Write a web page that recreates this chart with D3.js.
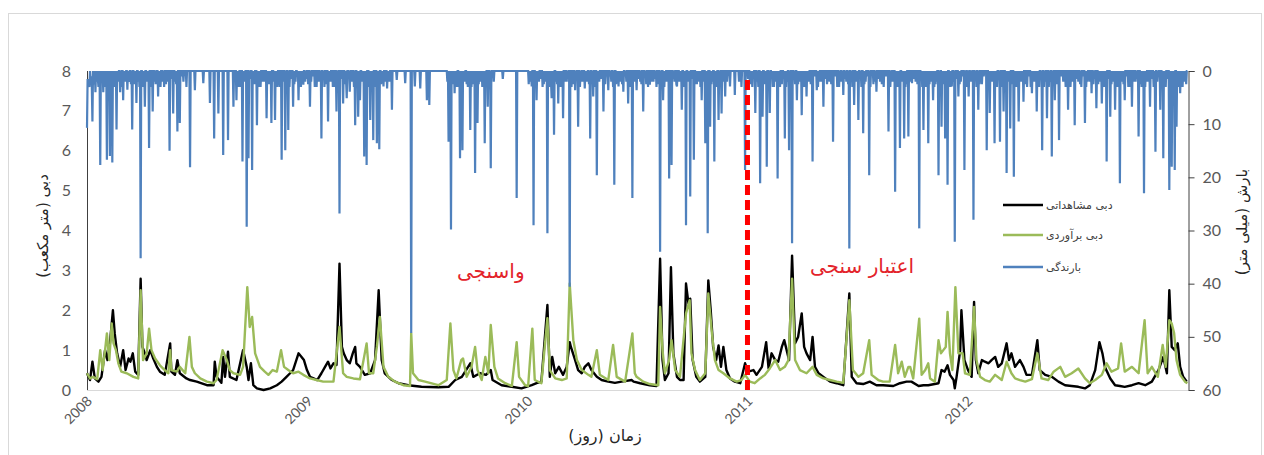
<!DOCTYPE html>
<html>
<head>
<meta charset="utf-8">
<style>
body { margin: 0; background: #fff; }
.tick-label { font-family: Lato, "Open Sans", sans-serif; fill: #595959; }
.fa { font-family: "DejaVu Sans", sans-serif; direction: rtl; }
</style>
</head>
<body>

<div id="diagram"></div>

<script src="https://cdn.jsdelivr.net/npm/d3@7/dist/d3.min.js"></script>
<script>

// days counted from 2008-01-01
var start_date = new Date( 2008, 0, 1 );
var end_date = new Date( 2013, 0, 1 );
var split_day = 1096;	// start of validation period (2011-01-01)

var year_labels = [ '2008', '2009', '2010', '2011', '2012' ];
var flow_ticks = [ 0, 1, 2, 3, 4, 5, 6, 7, 8 ];
var rain_ticks = [ 0, 10, 20, 30, 40, 50, 60 ];

var legend_names = [ 'دبی مشاهداتی', 'دبی برآوردی', 'بارندگی' ];

// observed discharge [day, m3/s]
var observed = [
	[0,0.42],[5,0.25],[9,0.71],[13,0.29],[19,0.21],[24,0.33],[30,1.0],[34,0.75],[38,1.17],[43,2.0],[46,1.42],[50,0.92],
	[55,0.58],[60,1.0],[64,0.5],[69,0.79],[72,0.71],[76,0.92],[80,0.46],[85,0.38],[89,2.79],[92,1.08],[96,0.92],[99,0.75],
	[105,1.0],[110,0.79],[116,0.58],[121,0.46],[129,0.38],[138,1.17],[140,0.46],[146,0.38],[150,0.75],[154,0.42],[165,0.29],
	[171,0.25],[182,0.21],[199,0.12],[210,0.12],[212,0.71],[215,0.33],[223,0.18],[226,0.83],[229,0.33],[234,0.96],[237,0.33],
	[248,0.25],[259,1.0],[265,0.58],[268,0.25],[272,0.67],[276,0.12],[282,0.04],[293,0.0],[304,0.04],[315,0.12],[323,0.21],
	[331,0.33],[337,0.42],[342,0.5],[351,0.92],[356,0.83],[360,0.75],[365,0.5],[370,0.33],[376,0.29],[382,0.25],[389,0.42],
	[395,0.58],[400,0.71],[404,0.54],[409,0.67],[414,0.63],[419,3.17],[423,1.08],[426,0.92],[431,0.75],[436,0.67],[441,0.92],
	[445,1.08],[447,0.67],[453,0.58],[461,0.38],[470,0.42],[478,0.75],[484,2.5],[489,0.75],[494,0.42],[506,0.25],[517,0.17],
	[533,0.12],[555,0.08],[583,0.07],[600,0.08],[611,0.25],[622,0.33],[636,0.67],[641,0.33],[652,0.42],[662,0.38],[670,0.5],
	[673,0.25],[688,0.12],[705,0.08],[721,0.04],[738,0.12],[746,0.17],[754,0.21],[764,2.13],[768,0.33],[772,0.83],[777,0.42],
	[783,0.58],[790,0.38],[796,0.58],[801,1.2],[803,1.08],[810,0.75],[815,0.5],[821,0.42],[826,0.58],[832,0.67],[837,0.5],
	[846,0.33],[854,0.25],[865,0.21],[876,0.18],[887,0.21],[904,0.25],[907,0.21],[918,0.17],[934,0.12],[945,0.1],[951,3.29],
	[955,0.75],[959,0.25],[965,0.42],[969,3.08],[973,0.92],[979,0.33],[984,0.25],[990,0.25],[994,2.67],[998,2.17],[1001,2.29],
	[1005,0.75],[1011,0.33],[1017,0.21],[1026,0.33],[1031,2.75],[1035,2.0],[1039,1.08],[1044,0.75],[1048,1.12],[1052,0.58],
	[1056,1.08],[1061,0.5],[1067,0.29],[1075,0.21],[1084,0.17],[1092,0.67],[1097,0.46],[1106,0.5],[1111,0.38],[1120,0.58],
	[1127,1.2],[1131,0.54],[1136,0.92],[1142,0.75],[1147,0.71],[1153,1.08],[1157,1.25],[1161,1.0],[1165,0.75],[1170,3.37],
	[1175,1.17],[1180,1.33],[1186,1.92],[1190,1.08],[1194,0.92],[1200,0.75],[1204,1.33],[1208,0.58],[1214,0.42],[1222,0.33],
	[1233,0.21],[1244,0.17],[1255,0.12],[1265,2.42],[1269,0.33],[1277,0.17],[1288,0.15],[1299,0.21],[1310,0.12],[1321,0.12],
	[1338,0.1],[1349,0.17],[1360,0.21],[1368,0.21],[1380,0.1],[1388,0.12],[1396,0.12],[1413,0.17],[1418,0.5],[1423,0.46],
	[1428,0.62],[1432,0.38],[1438,0.25],[1440,0.04],[1443,0.33],[1449,1.0],[1451,2.0],[1456,0.75],[1462,0.5],[1468,0.33],
	[1472,2.21],[1475,0.75],[1479,0.42],[1485,0.75],[1490,0.71],[1496,0.67],[1501,0.75],[1507,0.83],[1512,0.58],[1518,0.67],
	[1526,1.17],[1530,0.75],[1534,0.92],[1540,0.58],[1548,0.75],[1554,0.58],[1559,0.38],[1568,0.38],[1577,1.25],[1581,0.5],
	[1590,0.38],[1601,0.33],[1612,0.21],[1623,0.12],[1634,0.1],[1645,0.08],[1656,0.04],[1664,0.12],[1673,0.5],[1680,1.2],
	[1685,0.92],[1689,0.58],[1698,0.29],[1706,0.12],[1714,0.1],[1722,0.08],[1734,0.12],[1745,0.17],[1756,0.12],[1767,0.21],
	[1778,0.5],[1786,0.83],[1792,0.42],[1796,2.5],[1800,1.08],[1805,1.0],[1810,1.17],[1814,0.58],[1819,0.33],[1825,0.21]
];

// simulated discharge [day, m3/s]
var simulated = [
	[0,0.42],[5,0.29],[10,0.33],[17,0.27],[22,1.0],[26,0.5],[30,1.0],[33,1.42],[37,0.75],[41,1.67],[44,1.17],[48,1.0],
	[52,0.67],[57,0.46],[66,0.42],[77,0.33],[85,0.29],[89,2.5],[93,0.75],[99,0.92],[103,1.54],[107,1.0],[113,0.79],[121,0.62],
	[129,0.5],[135,0.42],[138,1.0],[140,0.5],[149,0.46],[154,0.58],[163,0.42],[170,1.33],[174,0.58],[179,0.42],[188,0.29],
	[199,0.21],[210,0.17],[215,0.25],[225,1.0],[232,0.75],[237,0.5],[243,0.42],[254,0.38],[259,0.58],[266,2.58],[270,1.58],
	[274,1.83],[279,0.92],[287,0.58],[295,0.46],[301,0.38],[308,0.5],[315,0.46],[322,1.0],[327,0.58],[334,0.5],[342,0.42],
	[351,0.46],[359,0.38],[370,0.29],[381,0.25],[392,0.21],[409,0.21],[419,1.58],[425,0.42],[431,0.33],[442,0.29],[453,0.27],
	[464,1.17],[468,0.42],[475,0.42],[481,1.08],[486,1.83],[492,0.58],[500,0.33],[511,0.21],[525,0.12],[536,0.1],[538,1.42],
	[541,0.42],[550,0.25],[561,0.21],[583,0.12],[597,0.25],[603,1.67],[608,0.5],[613,0.29],[621,0.75],[624,0.79],[630,0.33],
	[638,0.58],[644,1.08],[648,0.5],[655,0.25],[661,0.83],[666,0.42],[670,1.63],[676,0.58],[682,0.29],[694,0.17],[705,0.1],
	[713,1.2],[717,0.33],[727,0.12],[732,0.1],[739,1.54],[743,0.25],[754,0.17],[764,1.8],[768,0.5],[777,0.29],[788,0.25],
	[796,0.29],[801,2.67],[807,1.25],[813,0.75],[821,0.5],[832,0.38],[837,0.33],[846,1.0],[851,0.38],[865,0.25],[873,1.13],
	[879,0.33],[893,0.21],[905,1.42],[909,0.42],[912,0.33],[923,0.21],[934,0.15],[948,0.12],[951,2.08],[955,1.0],[959,0.42],
	[966,0.75],[970,1.25],[976,0.5],[984,0.33],[994,1.92],[1000,2.25],[1003,0.92],[1009,0.5],[1017,0.25],[1026,0.42],
	[1031,2.42],[1037,1.42],[1042,0.75],[1048,0.5],[1056,0.42],[1067,0.29],[1078,0.21],[1086,0.25],[1092,0.38],[1100,0.21],
	[1108,0.17],[1117,0.29],[1125,0.38],[1133,0.54],[1142,0.75],[1150,0.5],[1158,0.58],[1164,0.75],[1170,2.79],[1175,0.75],
	[1183,0.5],[1194,0.42],[1204,0.58],[1211,0.38],[1222,0.29],[1233,0.25],[1244,0.21],[1255,0.18],[1265,2.25],[1271,0.5],
	[1280,0.33],[1288,0.42],[1298,1.25],[1302,0.38],[1313,0.25],[1321,0.21],[1332,0.21],[1341,1.13],[1346,0.42],[1352,0.71],
	[1357,0.33],[1363,0.58],[1366,0.58],[1371,0.29],[1381,1.79],[1385,0.38],[1391,0.5],[1396,0.67],[1399,0.29],[1407,0.21],
	[1413,1.25],[1417,0.92],[1421,1.0],[1425,1.08],[1428,1.96],[1432,0.92],[1436,0.5],[1441,2.58],[1446,0.92],[1453,0.92],
	[1457,0.42],[1465,0.38],[1472,2.08],[1476,0.75],[1482,0.33],[1490,0.25],[1498,0.21],[1507,0.38],[1518,0.25],[1526,0.71],
	[1534,0.42],[1540,0.29],[1548,0.25],[1557,0.21],[1568,0.27],[1577,0.92],[1584,0.29],[1595,0.25],[1604,0.46],[1615,0.58],
	[1623,0.33],[1634,0.42],[1645,0.54],[1656,0.29],[1664,0.17],[1673,0.25],[1684,0.38],[1692,0.67],[1700,0.46],[1711,0.54],
	[1716,1.17],[1722,0.46],[1734,0.58],[1745,0.42],[1755,1.75],[1760,0.42],[1767,0.58],[1777,0.33],[1785,1.13],[1790,0.58],
	[1796,1.75],[1800,1.67],[1804,1.42],[1808,0.75],[1814,0.38],[1822,0.21],[1826,0.17]
];

// daily rainfall on rainy days [day, mm]
var rainfall = [
	[0,10.7],[2,2],[4,3],[6,1.5],[9,9.5],[12,2.5],[14,4],[16,2],[19,3],[22,17.7],[25,2],[27,4],[29,2.5],[33,16.7],[36,3],
	[38,16],[40,2],[42,17.2],[45,3],[49,11],[52,2],[55,4],[60,5.5],[64,2],[67,3.5],[70,2],[75,11],[78,2.5],[82,6],[85,2],
	[89,35.2],[92,3],[96,6.7],[99,2],[103,14.5],[106,3],[109,7.6],[112,2],[118,4.8],[122,3],[126,2],[131,2.5],[137,15],
	[143,8],[146,2],[150,11.4],[154,9.8],[160,2],[165,3],[171,18.1],[179,3.6],[193,2.3],[204,6],[211,12.7],[218,8],[226,15.8],
	[234,13],[243,6.7],[248,5.5],[250,2],[255,3],[258,17],[262,2],[265,29.3],[268,16.4],[274,18.6],[278,2.5],[282,10.2],
	[286,3],[291,2],[298,8.9],[302,2.5],[306,9.8],[310,2],[312,9.2],[316,3],[323,16.7],[326,2],[329,14.9],[334,11.1],[336,3],
	[342,6.7],[346,2],[351,5.5],[355,3],[359,2.6],[362,2],[370,6.7],[372,2],[378,3],[384,2],[389,12.7],[394,3],[400,9.5],
	[404,2],[408,3],[414,7.6],[419,26.8],[425,6.1],[430,2],[431,5.1],[436,3.9],[440,2],[445,10.2],[448,3],[450,8.6],[453,5.5],
	[456,2],[460,16.1],[464,17.7],[468,3],[470,9.2],[472,2],[475,13],[478,3],[481,13.6],[485,14.7],[488,2.5],[492,2.9],
	[495,2],[498,3.3],[502,2],[506,7.3],[514,1.7],[528,2.3],[538,49.3],[544,2.9],[553,3.3],[564,5.5],[568,6.4],[600,13.3],
	[604,29.8],[606,2],[610,4.2],[614,3],[619,16.4],[623,14.9],[627,2],[632,3],[636,11.1],[640,2.5],[644,19.2],[648,9.8],
	[652,2],[656,3],[660,13.6],[665,6.7],[670,18.3],[675,2],[690,1.5],[713,23.9],[735,2],[738,2.9],[741,29],[746,5.5],
	[750,2],[756,3],[760,2],[764,30.5],[768,3],[771,5.1],[775,12],[778,2],[782,6.1],[786,3],[790,8.9],[796,2],[801,40.6],
	[804,3],[810,3.6],[815,10.5],[820,2],[826,3.3],[830,2],[835,12.7],[840,4.8],[846,19.6],[850,2],[857,7.6],[865,3.6],
	[870,2],[875,21.4],[878,2.5],[882,2.9],[886,2],[890,3.9],[895,2],[898,6.1],[905,23.9],[912,3.6],[918,2],[923,7.6],
	[928,2.5],[934,2.6],[940,2],[945,3],[951,34],[956,5.5],[960,2],[966,20.2],[970,17.7],[975,2],[979,2.9],[983,2],
	[987,7.3],[992,3],[994,29],[997,2],[1001,23.6],[1007,16.7],[1012,2.5],[1016,2],[1020,5.5],[1026,13.6],[1030,30.5],
	[1034,10.5],[1038,2],[1041,17],[1045,3],[1048,9.2],[1053,8],[1059,4.8],[1062,2],[1067,2.9],[1075,4.5],[1082,2],[1086,3],
	[1092,18.6],[1100,2],[1104,3],[1109,7.9],[1112,2],[1117,21.1],[1121,8.6],[1124,2.5],[1128,18],[1133,7.9],[1138,3],
	[1142,2],[1146,20.2],[1150,3],[1158,12.7],[1162,2],[1165,14.9],[1170,32.4],[1175,2.5],[1178,5.5],[1182,2],[1186,8.3],
	[1190,3],[1194,4.8],[1198,2],[1204,17],[1211,3.6],[1215,2],[1222,6.7],[1228,2.5],[1232,2],[1238,13.3],[1245,3],[1250,2],
	[1255,4.5],[1260,2],[1265,33.4],[1273,6.4],[1276,2],[1280,9.2],[1285,3],[1288,11.7],[1292,2],[1298,19.6],[1305,2.5],
	[1310,3.9],[1316,2],[1322,3],[1330,11.4],[1335,2],[1341,22.7],[1345,3],[1349,14.5],[1352,2],[1356,12.7],[1360,2.5],
	[1363,12.3],[1369,2.3],[1375,2],[1381,29.6],[1388,11.1],[1392,3],[1396,13.6],[1400,2],[1404,5.5],[1408,2.5],[1413,19.6],
	[1418,10.5],[1420,2],[1424,12.7],[1428,21.4],[1431,3],[1435,2.9],[1440,32.1],[1446,4.8],[1450,2],[1456,18.6],[1458,3],
	[1463,4.8],[1466,2],[1471,28],[1476,3],[1479,7.3],[1485,2.5],[1493,14.9],[1498,7.9],[1502,2],[1506,13.6],[1510,3],
	[1515,13.3],[1521,7.6],[1526,19.2],[1530,2],[1532,10.8],[1538,19.9],[1542,3],[1546,9.5],[1550,2],[1554,5.8],[1560,3],
	[1568,4.2],[1572,2],[1576,7.6],[1580,3],[1585,14.9],[1590,2],[1593,8.9],[1596,3],[1601,16.1],[1606,5.5],[1613,13],
	[1620,2],[1628,7.3],[1632,3],[1639,10.2],[1645,2],[1650,3],[1656,9.8],[1660,2],[1667,4.2],[1670,2.5],[1675,7],[1680,2],
	[1684,6.1],[1688,3],[1692,17],[1698,8.6],[1702,2],[1706,7.3],[1710,3],[1714,21.1],[1718,2],[1722,5.5],[1728,3],
	[1734,6.7],[1740,2],[1745,12.3],[1750,3],[1754,23],[1758,2],[1764,6.7],[1770,3],[1773,15.2],[1776,2],[1781,7.3],
	[1786,16.4],[1790,3],[1796,22.4],[1800,18],[1802,3],[1805,18.6],[1808,10.5],[1812,2],[1814,4.2],[1818,3],[1822,2]
];

// light rain days that make the solid band along the top [day, mm]
var rainfall_light = [
	[1,1.5],[3,2.5],[7,1],[8,3],[11,2],[18,1.5],[21,2.5],[24,1],[31,3],[35,2],[44,1.5],[47,2.5],[51,1],[57,3],[62,2],
	[69,1.5],[73,2.5],[80,1],[87,3],[94,2],[101,1.5],[114,2.5],[120,1],[128,3],[134,2],[140,1.5],[148,2.5],[157,1],
	[252,3],[260,2],[270,1.5],[276,2.5],[284,1],[288,3],[294,2],[300,1.5],[304,2.5],[314,1],[320,3],[331,2],[339,1.5],
	[344,2.5],[349,1],[353,3],[357,2],[364,1.5],[367,2.5],[375,1],[381,3],[387,2],[392,1.5],[397,2.5],[402,1],[411,3],
	[416,2],[422,1.5],[428,2.5],[434,1],[443,3],[451,2],[458,1.5],[462,2.5],[474,1],[483,3],[490,2],[500,1.5],
	[598,2],[602,1.5],[608,2.5],[612,1],[617,3],[621,2],[625,1.5],[630,2.5],[634,1],[638,3],[642,2],[646,1.5],[650,2.5],
	[654,1],[658,3],[662,2],[668,1.5],[733,2.5],[737,1],[744,3],[748,2],[753,1.5],[758,2.5],[762,1],[766,3],[770,2],
	[773,1.5],[780,2.5],[784,1],[788,3],[793,2],[798,1.5],[807,2.5],[812,1],[818,3],[823,2],[828,1.5],[833,2.5],[838,1],
	[843,3],[848,2],[853,1.5],[860,2.5],[868,1],[873,3],[880,2],[884,1.5],[888,2.5],[893,1],[902,3],[908,2],[915,1.5],
	[920,2.5],[926,1],[931,3],[937,2],[943,1.5],[948,2.5],[953,1],[958,3],[963,2],[973,1.5],[978,2.5],[985,1],[990,3],
	[999,2],[1004,1.5],[1010,2.5],[1014,1],[1018,3],[1023,2],[1028,1.5],[1036,2.5],[1043,1],[1050,3],[1056,2],
	[1097,1.5],[1102,2.5],[1106,1],[1114,3],[1119,2],[1126,1.5],[1131,2.5],[1136,1],[1140,3],[1144,2],[1148,1.5],
	[1153,2.5],[1156,1],[1160,3],[1167,2],[1173,1.5],[1180,2.5],[1184,1],[1188,3],[1192,2],[1196,1.5],[1201,2.5],
	[1207,1],[1213,3],[1218,2],[1225,1.5],[1235,2.5],[1242,1],[1248,3],[1253,2],[1258,1.5],[1263,2.5],[1268,1],
	[1270,3],[1278,2],[1283,1.5],[1290,2.5],[1295,1],[1300,3],[1308,2],[1313,1.5],[1319,2.5],[1326,1],[1333,3],
	[1338,2],[1343,1.5],[1347,2.5],[1354,1],[1358,3],[1366,2],[1372,1.5],[1378,2.5],[1384,1],[1386,3],[1390,2],
	[1394,1.5],[1398,2.5],[1402,1],[1406,3],[1410,2],[1415,1.5],[1422,2.5],[1426,1],[1433,3],[1438,2],[1443,1.5],
	[1448,2.5],[1453,1],[1461,3],[1468,2],[1474,1.5],[1481,2.5],[1488,1],[1496,3],[1500,2],[1504,1.5],[1508,2.5],
	[1513,1],[1518,3],[1524,2],[1528,1.5],[1535,2.5],[1540,1],[1544,3],[1548,2],[1552,1.5],[1557,2.5],[1563,1],
	[1566,3],[1570,2],[1574,1.5],[1578,2.5],[1583,1],[1588,3],[1598,2],[1603,1.5],[1610,2.5],[1616,1],[1624,3],
	[1636,2],[1642,1.5],[1648,2.5],[1653,1],[1658,3],[1664,2],[1672,1.5],[1678,2.5],[1682,1],[1686,3],[1690,2],
	[1695,1.5],[1700,2.5],[1704,1],[1708,3],[1712,2],[1716,1.5],[1720,2.5],[1725,1],[1731,3],[1737,2],[1742,1.5],
	[1748,2.5],[1752,1],[1756,3],[1761,2],[1767,1.5],[1772,2.5],[1778,1],[1784,3],[1788,2],[1793,1.5],[1798,2.5],
	[1804,1],[1810,3],[1816,2],[1820,1.5],[1824,2.5]
];

var canvas_size = { width: 1264, height: 455 };
var plot = { left: 87, right: 1188, top: 71, bottom: 390 };

var colors = { observed: '#000000', simulated: '#9bbb59', rain: '#4f81bd', split: '#ff0000', label: '#e3232b' };

var svg = null;
var x = null, y_flow = null, y_rain = null;


function day_to_date( d )
{
	return d3.timeDay.offset( start_date, d );
}


function rain_points()
{
	// line runs along zero between rainy days
	var sorted = rainfall.concat( rainfall_light ).sort( function(a, b) { return a[0] - b[0]; } );
	var pts = [];
	sorted.forEach( function( e, i )
	{
		var prev = i > 0 ? sorted[i-1][0] : -10;
		var next = i < sorted.length - 1 ? sorted[i+1][0] : 9999;
		if( e[0] - prev > 1 && e[0] > 0 ) pts.push( [e[0] - 1, 0] );
		pts.push( e );
		if( next - e[0] > 1 ) pts.push( [e[0] + 1, 0] );
	});
	pts.push( [1826, 0] );
	return pts;
}


function draw()
{
	svg = d3.select( '#diagram' )
		.append( 'svg' )
			.attr( 'width', canvas_size.width )
			.attr( 'height', canvas_size.height );

	svg.append( 'rect' )
		.attr( 'width', canvas_size.width )
		.attr( 'height', canvas_size.height )
		.attr( 'fill', '#fff' );

	// outer chart frame
	svg.append( 'rect' )
		.attr( 'x', 8.5 ).attr( 'y', 13.5 )
		.attr( 'width', 1253 ).attr( 'height', 460 )
		.attr( 'fill', 'none' )
		.attr( 'stroke', '#d9d9d9' );

	x = d3.scaleTime().domain( [start_date, end_date] ).range( [plot.left, plot.right] );
	y_flow = d3.scaleLinear().domain( [0, 8] ).range( [plot.bottom, plot.top] );
	y_rain = d3.scaleLinear().domain( [0, 60] ).range( [plot.top, plot.bottom] );

	// bottom axis line
	svg.append( 'line' )
		.attr( 'x1', plot.left ).attr( 'x2', plot.right )
		.attr( 'y1', plot.bottom + 0.5 ).attr( 'y2', plot.bottom + 0.5 )
		.attr( 'stroke', '#d9d9d9' );

	// left axis
	svg.append( 'line' )
		.attr( 'x1', plot.left + 0.5 ).attr( 'x2', plot.left + 0.5 )
		.attr( 'y1', plot.top ).attr( 'y2', plot.bottom )
		.attr( 'stroke', '#404040' );

	svg.selectAll( 'text.flow-tick' )
		.data( flow_ticks )
		.enter().append( 'text' )
			.attr( 'class', 'tick-label flow-tick' )
			.attr( 'x', 71 )
			.attr( 'y', function(d) { return y_flow( d ) + 5.5; } )
			.attr( 'text-anchor', 'end' )
			.attr( 'font-size', 16 )
			.text( function(d) { return d; } );

	// right axis
	var right_axis = svg.append( 'g' )
		.attr( 'transform', 'translate(' + (plot.right + 0.5) + ',0)' )
		.call( d3.axisRight( y_rain ).tickValues( rain_ticks ).tickSize( 6 ).tickPadding( 8 ) );
	right_axis.select( '.domain' ).attr( 'stroke', '#404040' );
	right_axis.selectAll( '.tick line' ).attr( 'stroke', '#404040' );
	right_axis.selectAll( '.tick text' )
		.attr( 'class', 'tick-label' )
		.attr( 'font-size', 16 )
		.attr( 'fill', '#595959' );

	// year ticks on x axis
	svg.selectAll( 'text.year' )
		.data( year_labels )
		.enter().append( 'text' )
			.attr( 'class', 'tick-label year' )
			.attr( 'font-size', 14 )
			.attr( 'fill', '#7f7f7f' )
			.attr( 'text-anchor', 'end' )
			.attr( 'transform', function(d)
			{
				return 'translate(' + ( x( new Date( +d, 0, 1 ) ) + 6 ) + ',' + 402 + ') rotate(-45)';
			})
			.text( function(d) { return d; } );

	// discharge lines
	var flow_line = d3.line()
		.x( function(d) { return x( day_to_date( d[0] ) ); } )
		.y( function(d) { return y_flow( d[1] ); } );

	svg.append( 'path' )
		.datum( observed )
		.attr( 'd', flow_line )
		.attr( 'fill', 'none' )
		.attr( 'stroke', colors.observed )
		.attr( 'stroke-width', 2.4 )
		.attr( 'stroke-linejoin', 'round' );

	svg.append( 'path' )
		.datum( simulated )
		.attr( 'd', flow_line )
		.attr( 'fill', 'none' )
		.attr( 'stroke', colors.simulated )
		.attr( 'stroke-width', 2.4 )
		.attr( 'stroke-linejoin', 'round' );

	// rainfall hanging from the top
	var rain_line = d3.line()
		.x( function(d) { return x( day_to_date( d[0] ) ); } )
		.y( function(d) { return y_rain( d[1] ); } );

	svg.append( 'path' )
		.datum( rain_points() )
		.attr( 'd', rain_line )
		.attr( 'fill', 'none' )
		.attr( 'stroke', colors.rain )
		.attr( 'stroke-width', 2.2 );

	// calibration / validation split
	var sx = x( day_to_date( split_day ) );
	svg.append( 'line' )
		.attr( 'x1', sx ).attr( 'x2', sx )
		.attr( 'y1', 80 ).attr( 'y2', plot.bottom + 2 )
		.attr( 'stroke', colors.split )
		.attr( 'stroke-width', 5 )
		.attr( 'stroke-dasharray', '10,5' );

	svg.append( 'text' )
		.attr( 'class', 'fa' )
		.attr( 'x', x( day_to_date( 670 ) ) ).attr( 'y', 278 )
		.attr( 'text-anchor', 'middle' )
		.attr( 'font-size', 20 )
		.attr( 'fill', colors.label )
		.text( 'واسنجی' );

	svg.append( 'text' )
		.attr( 'class', 'fa' )
		.attr( 'x', x( day_to_date( 1286 ) ) ).attr( 'y', 273 )
		.attr( 'text-anchor', 'middle' )
		.attr( 'font-size', 20 )
		.attr( 'fill', colors.label )
		.text( 'اعتبار سنجی' );

	// legend
	var legend_colors = [ colors.observed, colors.simulated, colors.rain ];
	var legend = svg.selectAll( 'g.legend' )
		.data( legend_names )
		.enter().append( 'g' )
			.attr( 'class', 'legend' )
			.attr( 'transform', function(d, i) { return 'translate(1003,' + [205, 235, 267][i] + ')'; } );
	legend.append( 'line' )
		.attr( 'x1', 0 ).attr( 'x2', 40 )
		.attr( 'stroke', function(d, i) { return legend_colors[i]; } )
		.attr( 'stroke-width', 2.5 );
	legend.append( 'text' )
		.attr( 'class', 'fa' )
		.attr( 'x', 43 ).attr( 'y', 4 )
		.attr( 'text-anchor', 'end' )
		.attr( 'font-size', 11 )
		.attr( 'fill', '#404040' )
		.text( function(d) { return d; } );

	// axis titles
	svg.append( 'text' )
		.attr( 'class', 'fa' )
		.attr( 'transform', 'translate(48,226) rotate(-90)' )
		.attr( 'text-anchor', 'middle' )
		.attr( 'font-size', 15 )
		.attr( 'fill', '#262626' )
		.text( 'دبی (متر مکعب)' );

	svg.append( 'text' )
		.attr( 'class', 'fa' )
		.attr( 'transform', 'translate(1247,222) rotate(-90)' )
		.attr( 'text-anchor', 'middle' )
		.attr( 'font-size', 15 )
		.attr( 'fill', '#262626' )
		.text( 'بارش (میلی متر)' );

	svg.append( 'text' )
		.attr( 'class', 'fa' )
		.attr( 'x', 605 ).attr( 'y', 441 )
		.attr( 'text-anchor', 'middle' )
		.attr( 'font-size', 16 )
		.attr( 'fill', '#262626' )
		.text( 'زمان (روز)' );
}

draw();

</script>
</body>
</html>
